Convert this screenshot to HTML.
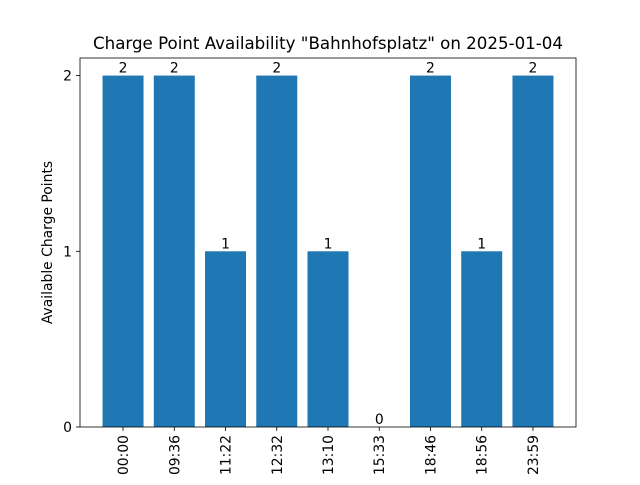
<!DOCTYPE html>
<html><head><meta charset="utf-8"><style>
body{margin:0;background:#fff;}
svg text{font-family:"DejaVu Sans","Liberation Sans",sans-serif;}
</style></head><body>
<svg id="chart" width="640" height="480" xmlns="http://www.w3.org/2000/svg">
<rect width="640" height="480" fill="#fff"/>
<text x="328" y="49" text-anchor="middle" font-size="16.67">Charge Point Availability "Bahnhofsplatz" on 2025-01-04</text>
<g id="bars"></g>
<g id="axes"></g>
</svg>
<script>
const categories=["00:00","09:36","11:22","12:32","13:10","15:33","18:46","18:56","23:59"];
const values=[2,2,1,2,1,0,2,1,2];
const yTicks=[0,1,2];
const L=80,R=576,T=58,B=427;
const xmin=-0.84,xmax=8.84,ymax=2.1;
const xs=i=>L+(i-xmin)/(xmax-xmin)*(R-L);
const ys=v=>B-v/ymax*(B-T);
const ns="http://www.w3.org/2000/svg";
const bars=document.getElementById('bars'),axes=document.getElementById('axes');
function mk(tag,attrs,parent,text){const e=document.createElementNS(ns,tag);for(const k in attrs)e.setAttribute(k,attrs[k]);if(text!==undefined)e.textContent=text;parent.appendChild(e);return e;}
categories.forEach((c,i)=>{
  const x0=xs(i-0.4),x1=xs(i+0.4),y=ys(values[i]);
  const r=mk('rect',{x:x0,y:y,width:x1-x0,height:B-y,fill:'#1f77b4'},bars);
  
  
  const t=mk('text',{x:xs(i),y:y-3,'text-anchor':'middle','font-size':13.9},bars,String(values[i]));
  
  
  mk('line',{x1:xs(i),x2:xs(i),y1:B,y2:B+4,stroke:'#000','stroke-width':0.8},axes);
  const tl=mk('text',{transform:`translate(${xs(i)+5},${B+8}) rotate(-90)`,'text-anchor':'end','font-size':13.9},axes,c);
  
  
});
yTicks.forEach(v=>{
  mk('line',{x1:L-4,x2:L,y1:ys(v),y2:ys(v),stroke:'#000','stroke-width':0.8},axes);
  const t=mk('text',{x:L-8,y:ys(v)+5,'text-anchor':'end','font-size':13.9},axes,String(v));
  
  
});
const fr=mk('rect',{x:L,y:T,width:R-L,height:B-T,fill:'none',stroke:'#000','stroke-width':0.8},axes);


const yl=mk('text',{transform:`translate(52,${(T+B)/2}) rotate(-90)`,'text-anchor':'middle','font-size':13.9},axes,'Available Charge Points');


</script>
</body></html>
